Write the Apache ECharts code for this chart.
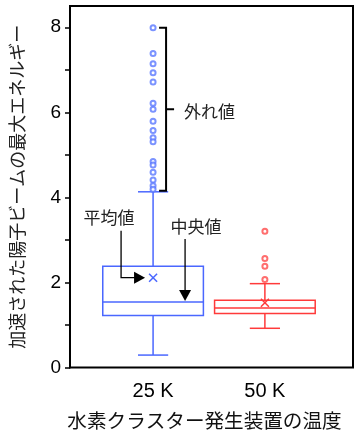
<!DOCTYPE html>
<html><head><meta charset="utf-8">
<script src="https://cdn.jsdelivr.net/npm/echarts@6/dist/echarts.min.js"></script>
<style>html,body{margin:0;padding:0;background:#fff}#c{width:360px;height:435px}</style>
</head><body><div id="c"></div>
<script>
// ---- data ----
const categories = ['25 K', '50 K'];
const catPos = [1, 2];
// [lower whisker, Q1, median, Q3, upper whisker]
const box25 = [0.29, 1.22, 1.54, 2.38, 4.13];
const box50 = [0.92, 1.27, 1.40, 1.58, 1.97];
const means = [2.11, 1.52];
const outliers25 = [7.99, 7.38, 7.14, 6.93, 6.71, 6.21, 6.07, 5.79, 5.57, 5.40, 5.31, 4.84, 4.76, 4.59, 4.41, 4.27, 4.19];
const outliers50 = [3.20, 2.56, 2.38, 2.07];
const yTicks = [0, 1, 2, 3, 4, 5, 6, 7, 8];
const yLabels = [0, 2, 4, 6, 8];
const yName = '加速された陽子ビームの最大エネルギー';
const xName = '水素クラスター発生装置の温度';
const noteOutlier = '外れ値';
const noteMean = '平均値';
const noteMedian = '中央値';

const BLUE = '#4a67ff', RED = '#ff3a3a';
const colors = [BLUE, RED];
const JP = '"Noto Sans CJK JP", sans-serif';
const NUM = '"Liberation Sans", Arial, sans-serif';

const boxData = [box25, box50].map((b, i) => [catPos[i], ...b, means[i]]);

function renderBox(params, api) {
  const x = api.value(0);
  const c = (v) => api.coord([x, v]);
  const lo = c(api.value(1)), q1 = c(api.value(2)), med = c(api.value(3)),
        q3 = c(api.value(4)), hi = c(api.value(5)), mn = c(api.value(6));
  const unit = api.size([1, 0])[0];
  const bw = unit * 0.9, cw = unit * 0.27;
  const cx = lo[0];
  const col = colors[params.dataIndex];
  const st = { stroke: col, lineWidth: 1.5, fill: null };
  const L = (x1, y1, x2, y2) => ({ type: 'line', shape: { x1, y1, x2, y2 }, style: st });
  const m = 4;
  return {
    type: 'group',
    children: [
      L(cx, q3[1], cx, hi[1]),
      L(cx, q1[1], cx, lo[1]),
      L(cx - cw / 2, hi[1], cx + cw / 2, hi[1]),
      L(cx - cw / 2, lo[1], cx + cw / 2, lo[1]),
      { type: 'rect', shape: { x: cx - bw / 2, y: q3[1], width: bw, height: q1[1] - q3[1] }, style: st },
      L(cx - bw / 2, med[1], cx + bw / 2, med[1]),
      L(mn[0] - m, mn[1] - m, mn[0] + m, mn[1] + m),
      L(mn[0] - m, mn[1] + m, mn[0] + m, mn[1] - m)
    ]
  };
}

function renderNotes(params, api) {
  const x = catPos[0];
  const top = api.coord([x, Math.max(...outliers25)]);
  const bot = api.coord([x, box25[4]]);
  const mn = api.coord([x, means[0]]);
  const md = api.coord([x, box25[2]]);
  const cx = top[0];
  const blk = { stroke: '#000', lineWidth: 2, fill: null };
  const thin = { stroke: '#000', lineWidth: 1.3, fill: null };
  const txt = (t, px, py, align) => ({ type: 'text', x: px, y: py,
    style: { text: t, fill: '#222', fontSize: 17, fontFamily: JP, align: align || 'center', verticalAlign: 'middle' } });
  const midY = (top[1] + bot[1] - 1) / 2;
  const tipX = mn[0] - 8, ay = mn[1], vx = mn[0] - 32;
  const mx = cx + 32, mtip = md[1] - 1;
  return {
    type: 'group',
    children: [
      { type: 'polyline', shape: { points: [[cx + 6, top[1]], [cx + 13, top[1]], [cx + 13, bot[1] - 1], [cx + 6, bot[1] - 1]] }, style: blk },
      { type: 'line', shape: { x1: cx + 13, y1: midY, x2: cx + 21, y2: midY }, style: blk },
      txt(noteOutlier, cx + 31, midY + 2, 'left'),
      { type: 'polyline', shape: { points: [[vx, ay - 47], [vx, ay], [tipX - 10, ay]] }, style: thin },
      { type: 'polygon', shape: { points: [[tipX, ay], [tipX - 11, ay - 6], [tipX - 11, ay + 6]] }, style: { fill: '#000' } },
      txt(noteMean, mn[0] - 44, ay - 60),
      { type: 'line', shape: { x1: mx, y1: md[1] - 63, x2: mx, y2: mtip - 10 }, style: thin },
      { type: 'polygon', shape: { points: [[mx, mtip], [mx - 6, mtip - 11], [mx + 6, mtip - 11]] }, style: { fill: '#000' } },
      txt(noteMedian, cx + 43, md[1] - 75)
    ]
  };
}

const chart = echarts.init(document.getElementById('c'), null, { renderer: 'canvas' });
chart.setOption({
  animation: false,
  backgroundColor: '#fff',
  grid: { left: 67, right: 7, top: 6, bottom: 65, show: true, borderColor: '#000', borderWidth: 2, backgroundColor: 'transparent' },
  xAxis: {
    type: 'value', min: 0.257, max: 2.788,
    splitLine: { show: false }, axisTick: { show: false },
    axisLine: { show: false },
    axisLabel: { customValues: catPos, formatter: (v) => categories[catPos.indexOf(Math.round(v))] || '',
      color: '#000', fontSize: 20, fontFamily: NUM, margin: 14 },
    name: xName, nameLocation: 'middle', nameGap: 43,
    nameTextStyle: { color: '#111', fontSize: 19.6, fontFamily: JP, padding: [0, 14, 0, 0] }
  },
  yAxis: {
    type: 'value', min: 0, max: 8.5,
    splitLine: { show: false },
    axisLine: { show: true, lineStyle: { color: '#000', width: 2 } },
    axisTick: { show: true, inside: false, length: 5, customValues: yTicks, lineStyle: { color: '#000', width: 1.5 } },
    axisLabel: { customValues: yLabels, color: '#000', fontSize: 19, fontFamily: NUM, margin: 9 },
    name: yName, nameLocation: 'middle', nameGap: 44,
    nameTextStyle: { color: '#222', fontSize: 18, fontFamily: JP }
  },
  series: [
    { type: 'custom', renderItem: renderBox, data: boxData, encode: { x: 0, y: [1, 2, 3, 4, 5, 6] }, z: 3 },
    { type: 'scatter', data: outliers25.map(v => [catPos[0], v]), symbol: 'emptyCircle', symbolSize: 5,
      itemStyle: { color: '#5a78ff', borderColor: '#5a78ff', borderWidth: 1.1 }, z: 4 },
    { type: 'scatter', data: outliers50.map(v => [catPos[1], v]), symbol: 'emptyCircle', symbolSize: 5,
      itemStyle: { color: '#ff4a4a', borderColor: '#ff4a4a', borderWidth: 1.1 }, z: 4 },
    { type: 'custom', renderItem: renderNotes, data: [[catPos[0], means[0]]], encode: { x: 0, y: 1 }, z: 5, silent: true }
  ]
});
</script></body></html>
